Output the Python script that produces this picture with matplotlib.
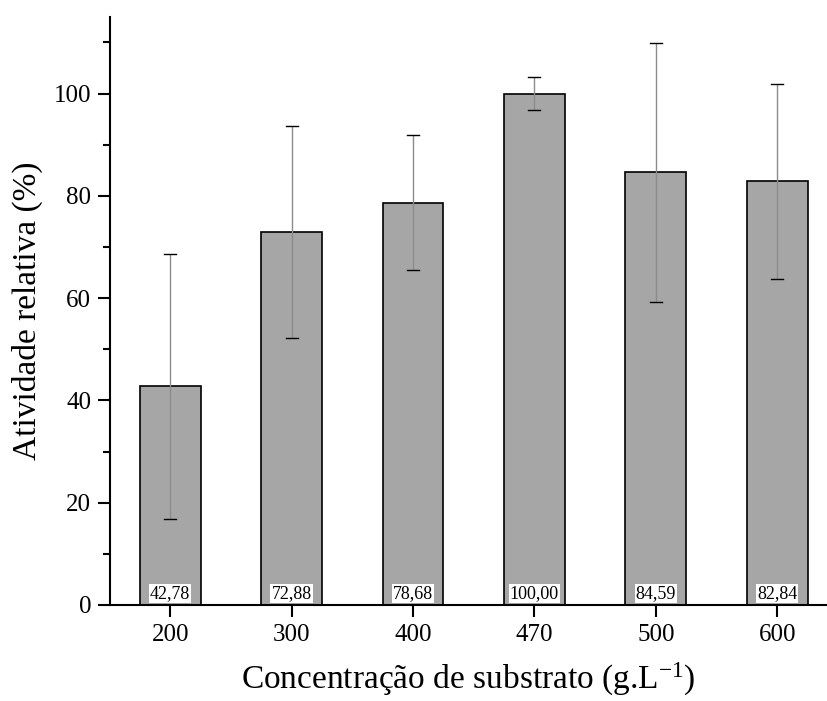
import matplotlib
matplotlib.use("Agg")
import matplotlib.pyplot as plt
from matplotlib.ticker import MultipleLocator

categories = ['200', '300', '400', '470', '500', '600']
values = [42.78, 72.88, 78.68, 100.00, 84.59, 82.84]
errors = [25.9, 20.7, 13.2, 3.3, 25.3, 19.1]
value_labels = ['42,78', '72,88', '78,68', '100,00', '84,59', '82,84']

plt.rcParams['font.family'] = ['Liberation Serif', 'DejaVu Serif']
plt.rcParams['mathtext.default'] = 'regular'

fig = plt.figure(figsize=(8.27, 7.01), dpi=100)
ax = fig.add_axes([0.133, 0.137, 0.867, 0.839])

x = list(range(len(categories)))
ax.bar(x, values, width=0.5, color='#a6a6a6', edgecolor='black', linewidth=1.2, zorder=2)
ax.errorbar(x, values, yerr=errors, fmt='none', ecolor='#8c8c8c', elinewidth=1.0,
            capsize=0, zorder=3)
# black caps over the grey stems
for xi, v, e in zip(x, values, errors):
    ax.plot([xi - 0.05, xi + 0.05], [v + e, v + e], color='black', lw=1.0, zorder=4)
    ax.plot([xi - 0.05, xi + 0.05], [v - e, v - e], color='black', lw=1.0, zorder=4)

for xi, lab in zip(x, value_labels):
    ax.text(xi, 2.2, lab, ha='center', va='center', fontsize=13, zorder=5,
            bbox=dict(facecolor='white', edgecolor='none', pad=0.8))

ax.set_xlim(-0.496, 5.41)
ax.set_ylim(0, 115)
ax.set_xticks(x)
ax.set_xticklabels(categories)
ax.yaxis.set_major_locator(MultipleLocator(20))
ax.yaxis.set_minor_locator(MultipleLocator(10))

for s in ['top', 'right']:
    ax.spines[s].set_visible(False)
for s in ['left', 'bottom']:
    ax.spines[s].set_linewidth(1.5)

ax.tick_params(axis='both', which='major', direction='out', length=8.5, width=1.5,
               labelsize=18, pad=5)
ax.tick_params(axis='y', which='minor', direction='out', length=5, width=1.5)

ax.set_xlabel('Concentração de substrato (g.L$^{-1}$)', fontsize=24, labelpad=11)
ax.set_ylabel('Atividade relativa (%)', fontsize=24, labelpad=8)

fig.savefig('out.png', dpi=100)
